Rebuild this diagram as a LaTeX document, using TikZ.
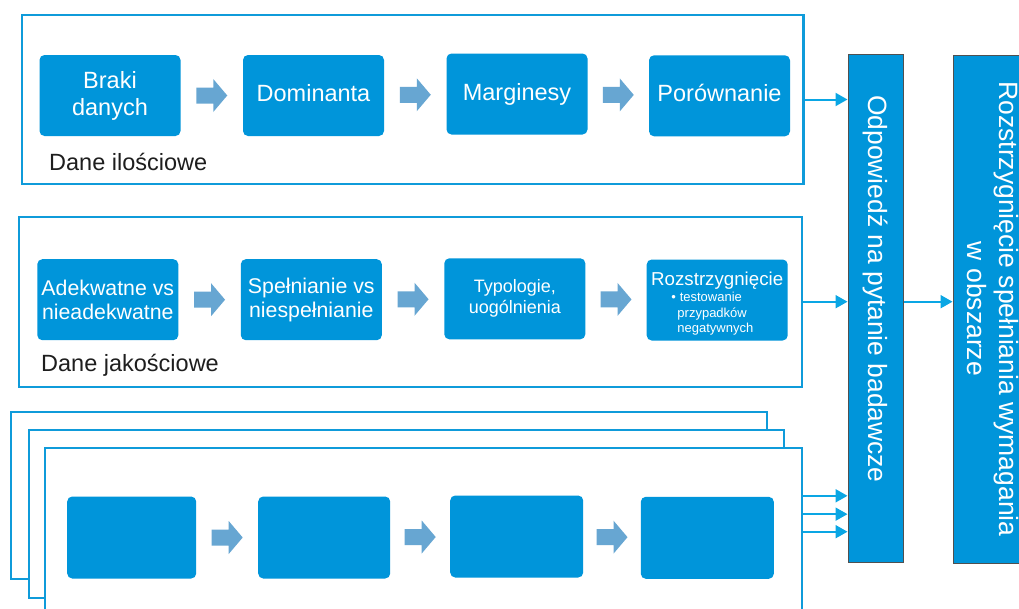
\documentclass[tikz,border=0pt]{standalone}
\usepackage{fontspec}
\setmainfont{Liberation Sans}
\usepackage{graphicx}
\usetikzlibrary{arrows.meta,calc}
\definecolor{boxblue}{RGB}{0,149,218}
\definecolor{frameblue}{RGB}{15,155,218}
\definecolor{arrowfill}{RGB}{103,166,210}
\definecolor{connblue}{RGB}{10,166,228}
\definecolor{colborder}{RGB}{80,80,80}
\definecolor{captext}{RGB}{30,30,30}
\newcommand\flowarrow[2]{\fill[arrowfill] ($(#1.east)!0.5!(#2.west)$) ++(-15.5,-8) -- ++(17,0) -- ++(0,-8.5) -- ++(14,16.5) -- ++(-14,16.5) -- ++(0,-8.5) -- ++(-17,0) -- cycle;}
\begin{document}
\begin{tikzpicture}[x=1pt,y=-1pt,
  box/.style={fill=boxblue, rounded corners=5pt, inner sep=0pt, text=white, align=center,
    minimum width=141pt, minimum height=81pt},
  oneline/.style={text height=17pt, text depth=5pt},
  bigtxt/.style={font=\fontsize{23.5}{27}\selectfont},
  midtxt/.style={font=\fontsize{21.3}{24}\selectfont},
  frame/.style={draw=frameblue, line width=2.2pt, fill=white, inner sep=0pt},
  conn/.style={draw=connblue, line width=2pt, -{Triangle[length=12pt,width=13pt]}},
  col/.style={fill=boxblue, draw=colborder, line width=1pt, inner sep=0pt, text=white},
  caption/.style={anchor=base west, text=captext, inner sep=0pt, font=\fontsize{23.5}{27}\selectfont}
]
\useasboundingbox (0,0) rectangle (1019,608);
\clip (0,0) rectangle (1019,608);

% frames
\node[frame, minimum width=781.8pt, minimum height=169pt] (fq) at (412.6,99.5) {};
\node[frame, minimum width=782.4pt, minimum height=170pt] (fl) at (410.5,301.7) {};
\node[frame, minimum width=755.7pt, minimum height=167pt] (fA) at (388.85,495.8) {};
\node[frame, minimum width=754.7pt, minimum height=168.3pt] (fB) at (406.65,514.15) {};
\node[frame, minimum width=756.7pt, minimum height=168pt] (fC) at (423.35,531.7) {};

% top row
\node[box, bigtxt] (t1) at (110,95.5) {Braki\\danych};
\node[box, bigtxt, oneline] (t2) at (313.5,95.5) {Dominanta};
\node[box, bigtxt, oneline] (t3) at (517,94) {Marginesy};
\node[box, bigtxt, oneline] (t4) at (719.5,95.8) {Porównanie};
\flowarrow{t1}{t2}
\flowarrow{t2}{t3}
\flowarrow{t3}{t4}
\node[caption] (cq) at (49,170) {Dane ilościowe};

% middle row
\node[box, midtxt] (m1) at (107.8,299.7) {Adekwatne vs\\nieadekwatne};
\node[box, midtxt] (m2) at (311.3,299.7) {Spełnianie vs\\niespełnianie};
\node[box, font=\fontsize{18}{21}\selectfont] (m3) at (514.8,298.8) {Typologie,\\uogólnienia};
\node[box, font=\fontsize{18.7}{21}\selectfont] (m4) at (717.2,300)
  {\rule{0pt}{22.4pt}Rozstrzygnięcie\\[-4.3pt]
   {\fontsize{13}{15.5}\selectfont\begin{tabular}[t]{@{}l@{}}\makebox[8.3pt][l]{•}testowanie\\ \hspace*{6pt}przypadków\\ \hspace*{6pt}negatywnych\end{tabular}\hspace*{9.6pt}}};
\flowarrow{m1}{m2}
\flowarrow{m2}{m3}
\flowarrow{m3}{m4}
\node[caption] (cl) at (41,371.7) {Dane jakościowe};

% bottom row
\node[box, minimum width=129pt, minimum height=82pt] (b1) at (131.7,537.5) {};
\node[box, minimum width=132pt, minimum height=82pt] (b2) at (324.2,537.5) {};
\node[box, minimum width=133pt, minimum height=82pt] (b3) at (516.7,536.5) {};
\node[box, minimum width=133pt, minimum height=82pt] (b4) at (707.3,537.8) {};
\flowarrow{b1}{b2}
\flowarrow{b2}{b3}
\flowarrow{b3}{b4}

% columns
\node[col, minimum width=55pt, minimum height=508pt] (ans) at (875.5,308)
  {\rotatebox{-90}{\fontsize{26.4}{32}\selectfont Odpowiedź na pytanie badawcze\hspace*{38pt}}};
\node[col, minimum width=73pt, minimum height=508pt] (res) at (989.5,309)
  {\rotatebox{-90}{\fontsize{26.5}{32}\selectfont\begin{tabular}{@{}c@{}}Rozstrzygnięcie spełniania wymagania\\w obszarze\end{tabular}}};

% connectors
\draw[conn] (fq.east) -- (fq.east -| ans.west);
\draw[conn] (fl.east) -- (fl.east -| ans.west);
\draw[conn] (fC.east |- fA.east) -- (ans.west |- fA.east);
\draw[conn] (fC.east |- fB.east) -- (ans.west |- fB.east);
\draw[conn] (fC.east) -- (ans.west |- fC.east);
\draw[conn] (ans.east |- fl.east) -- (res.west |- fl.east);
\end{tikzpicture}
\end{document}
